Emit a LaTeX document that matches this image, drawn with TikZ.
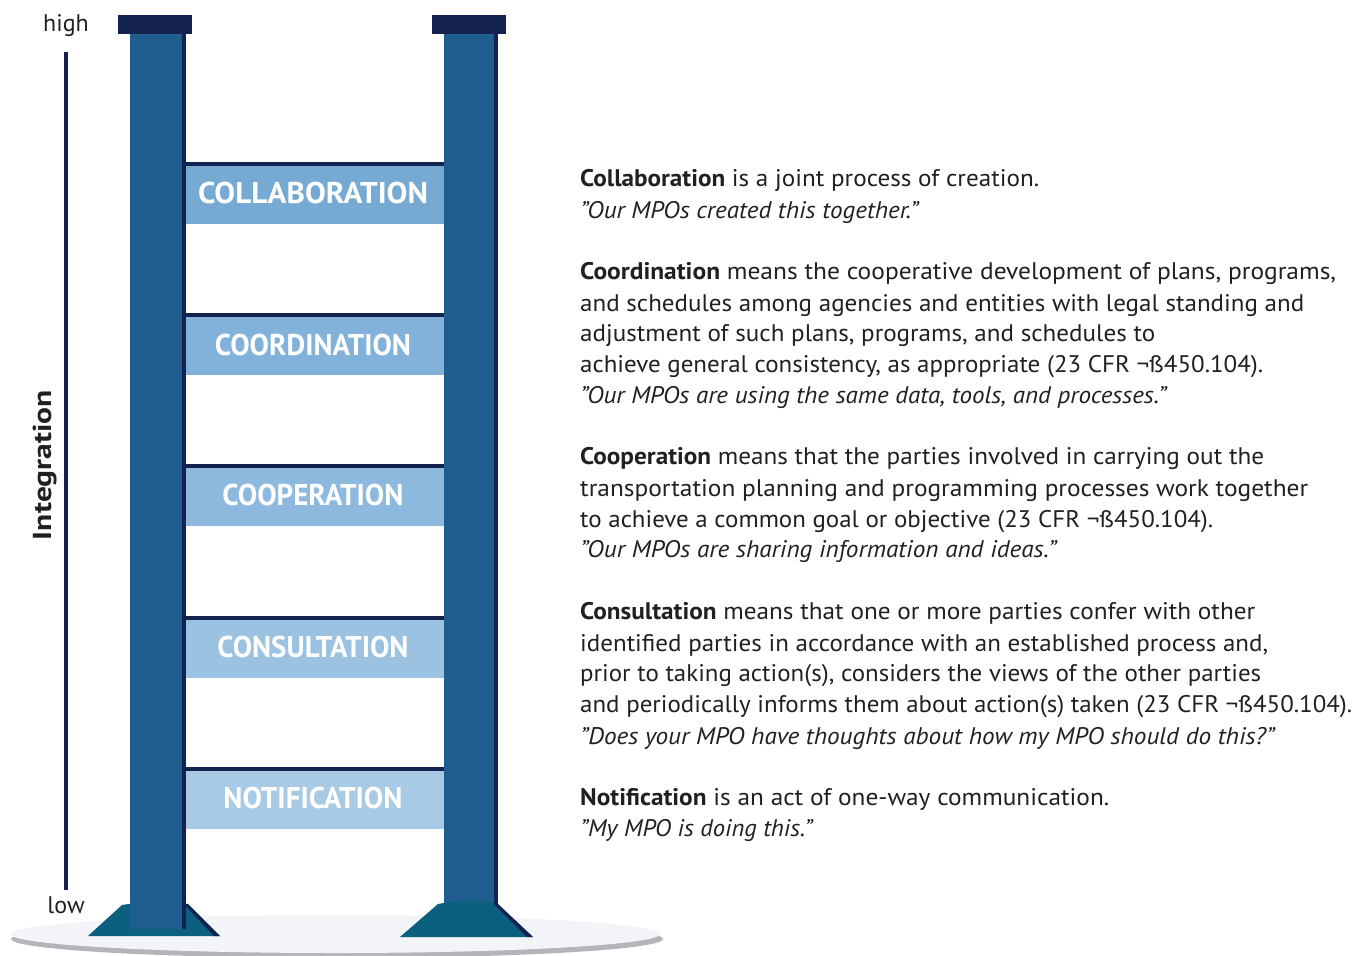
\documentclass[tikz,border=0pt]{standalone}
\usepackage{fontspec}
\setmainfont{PT Sans}
\usepackage{graphicx}
\definecolor{pillarcol}{HTML}{1F5D8F}
\definecolor{navycol}{HTML}{13224E}
\definecolor{basecol}{HTML}{0B5F7F}
\definecolor{floorcol}{HTML}{F3F4F8}
\definecolor{shadowcol}{HTML}{B4B5BA}
\definecolor{txtcol}{HTML}{231F20}
\definecolor{rungA}{HTML}{77AAD3}
\definecolor{rungB}{HTML}{82B2DA}
\definecolor{rungC}{HTML}{8DB9DE}
\definecolor{rungD}{HTML}{9BC2E1}
\definecolor{rungE}{HTML}{A8CAE5}
\newcommand{\fitw}[2]{\resizebox{#1pt}{\height}{#2}}
\tikzset{
  rungbox/.style={rectangle, inner sep=0pt, minimum width=258pt, minimum height=58pt},
  runglabel/.style={anchor=base, inner sep=0pt, text=white, font=\fontsize{30}{30}\selectfont\bfseries},
  desc/.style={anchor=base west, inner sep=0pt, text=txtcol, font=\fontsize{24}{24}\selectfont},
  axislabel/.style={anchor=base, inner sep=0pt, text=txtcol, font=\fontsize{24}{24}\selectfont},
}
\begin{document}
\begin{tikzpicture}[x=1pt,y=-1pt]
\useasboundingbox (0,0) rectangle (1366,956);
% floor
\fill[shadowcol] (337,939) ellipse [x radius=326, y radius=19];
\fill[floorcol] (335,934) ellipse [x radius=325, y radius=19];
% right pillar (behind its base)
\fill[pillarcol] (444,34) rectangle (494,910);
\fill[navycol] (494,34) rectangle (498,910);
\fill[navycol] (432,15) rectangle (506,34);
% bases
\fill[basecol] (88,936) -- (122,905) .. controls (145,901) and (170,901) .. (188,904) -- (220,936) -- cycle;
\fill[navycol] (184,904) -- (188,904) -- (220,936) -- (214,936) -- cycle;
\fill[basecol] (400,937) -- (438,904) .. controls (460,900) and (480,900) .. (496,903) -- (533,937) -- cycle;
\fill[navycol] (493,903) -- (497,903) -- (533,937) -- (527,937) -- cycle;
% left pillar
\fill[pillarcol] (130,34) rectangle (182,929);
\fill[navycol] (182,34) rectangle (186,929);
\fill[navycol] (118,15) rectangle (192,34);
% axis
\draw[navycol, line width=4pt] (66,52) -- (66,890);
\node[axislabel] (high) at (66,31) {high};
\node[axislabel] (low) at (66,913) {low};
\node[axislabel, rotate=90, font=\fontsize{26}{26}\selectfont\bfseries] (integ) at (51,465) {\fitw{150}{Integration}};
% rungs
\fill[navycol] (186,162) rectangle (444,166);
\node[rungbox, fill=rungA] (r1) at (315,195) {};
\node[runglabel] (t1) at (313,203) {\fitw{230}{COLLABORATION}};
\fill[navycol] (186,313) rectangle (444,317);
\node[rungbox, fill=rungB] (r2) at (315,346) {};
\node[runglabel] (t2) at (313,355) {\fitw{196}{COORDINATION}};
\fill[navycol] (186,464) rectangle (444,468);
\node[rungbox, fill=rungC] (r3) at (315,497) {};
\node[runglabel] (t3) at (313,505) {\fitw{181}{COOPERATION}};
\fill[navycol] (186,616) rectangle (444,620);
\node[rungbox, fill=rungD] (r4) at (315,649) {};
\node[runglabel] (t4) at (313,657) {\fitw{191}{CONSULTATION}};
\fill[navycol] (186,767) rectangle (444,771);
\node[rungbox, fill=rungE] (r5) at (315,800) {};
\node[runglabel] (t5) at (313,808) {\fitw{179}{NOTIFICATION}};
% descriptions
\node[desc] (l1) at (580,186) {\fitw{459}{\textbf{Collaboration} is a joint process of creation.}};
\node[desc] (l2) at (580,218) {\fitw{338}{\itshape "Our MPOs created this together."}};
\node[desc] (l3) at (580,279) {\fitw{756}{\textbf{Coordination} means the cooperative development of plans, programs,}};
\node[desc] (l4) at (580,311) {\fitw{724}{and schedules among agencies and entities with legal standing and}};
\node[desc] (l5) at (580,341) {\fitw{575}{adjustment of such plans, programs, and schedules to}};
\node[desc] (l6) at (580,372) {\fitw{683}{achieve general consistency, as appropriate (23 CFR ¬ß450.104).}};
\node[desc] (l7) at (580,403) {\fitw{586}{\itshape "Our MPOs are using the same data, tools, and processes."}};
\node[desc] (l8) at (580,464) {\fitw{684}{\textbf{Cooperation} means that the parties involved in carrying out the}};
\node[desc] (l9) at (580,496) {\fitw{728}{transportation planning and programming processes work together}};
\node[desc] (l10) at (580,527) {\fitw{633}{to achieve a common goal or objective (23 CFR ¬ß450.104).}};
\node[desc] (l11) at (580,557) {\fitw{476}{\itshape "Our MPOs are sharing information and ideas."}};
\node[desc] (l12) at (580,619) {\fitw{675}{\textbf{Consultation} means that one or more parties confer with other}};
\node[desc] (l13) at (580,651) {\fitw{688}{identified parties in accordance with an established process and,}};
\node[desc] (l14) at (580,681) {\fitw{681}{prior to taking action(s), considers the views of the other parties}};
\node[desc] (l15) at (580,712) {\fitw{772}{and periodically informs them about action(s) taken (23 CFR ¬ß450.104).}};
\node[desc] (l16) at (580,744) {\fitw{694}{\itshape "Does your MPO have thoughts about how my MPO should do this?"}};
\node[desc] (l17) at (580,805) {\fitw{529}{\textbf{Notification} is an act of one-way communication.}};
\node[desc] (l18) at (580,836) {\fitw{232}{\itshape "My MPO is doing this."}};
\end{tikzpicture}
\end{document}
